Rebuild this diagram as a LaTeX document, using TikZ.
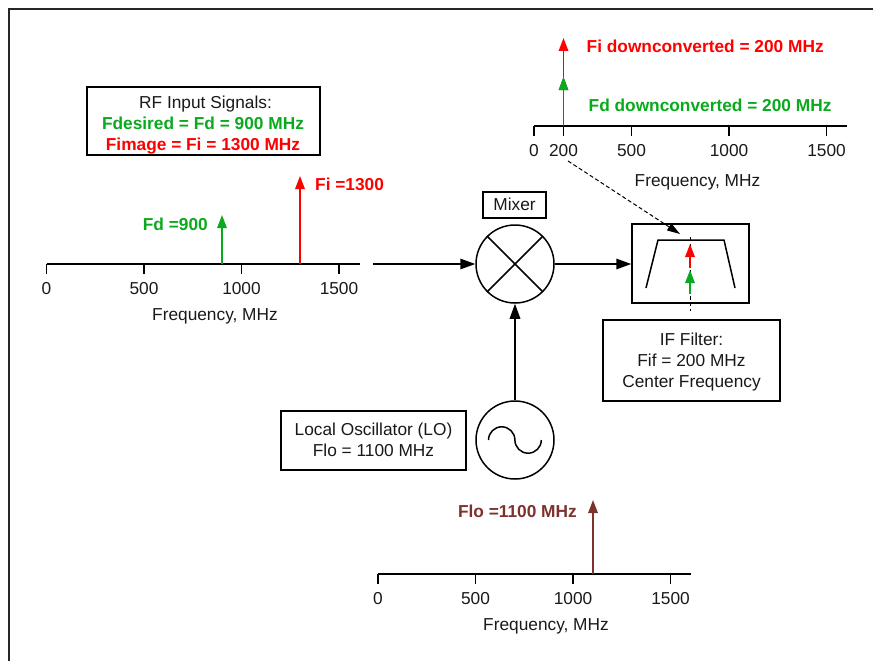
\documentclass[tikz,border=0pt]{standalone}
\usepackage{fontspec}
\setmainfont{Liberation Sans}
\usetikzlibrary{arrows.meta}
\definecolor{gr}{RGB}{10,170,30}
\definecolor{rd}{RGB}{255,0,0}
\definecolor{br}{RGB}{125,50,45}
\tikzset{
  x=1pt,y=-1pt,
  lbl/.style={font=\fontsize{17.3}{20.5}\selectfont,text=black!90,inner sep=0pt,anchor=base},
  blbl/.style={font=\fontsize{17.3}{20.5}\selectfont\bfseries,inner sep=0pt,anchor=base},
  tbox/.style={draw=black,line width=1.5pt,fill=white,inner sep=0pt,minimum width=#1},
  axisline/.style={line width=1.5pt,black},
  wire/.style={line width=1.5pt,-{Triangle[length=15pt,width=10.5pt]}},
  spike/.style={line width=1.5pt,-{Triangle[length=13pt,width=9.5pt]}},
  ring/.style={circle,draw=black,line width=1.5pt,minimum size=78pt,inner sep=0pt,fill=white},
}
\newcommand{\freqaxis}[5]{% x0, y, name, caption dx, caption dy
  \coordinate (#3s) at (#1,#2);
  \coordinate (#3e) at (#1+313,#2);
  \draw[axisline] (#3s) -- (#3e);
  \foreach \v/\p in {0/0,500/97.5,1000/195,1500/292.5}{
    \draw[axisline] (#1+\p,#2) -- ++(0,10);
    \node[lbl] (#3t\v) at (#1+\p,#2+30) {\v};
  }
  \node[lbl] (#3cap) at (#1+#4,#2+#5) {Frequency, MHz};
}
\begin{document}
\begin{tikzpicture}
\useasboundingbox (0,0) rectangle (873,661);
\draw[line width=1.5pt,black!85] (9,661) -- (9,9) -- (873,9);

% axis 1
\freqaxis{46.5}{264}{a}{168.5}{56}
\coordinate (f1b) at (222,264); \coordinate (f1t) at (222,215);
\coordinate (i1b) at (300,264); \coordinate (i1t) at (300,176);
\draw[spike,gr] (f1b) -- (f1t);
\draw[spike,rd] (i1b) -- (i1t);
\node[blbl,text=gr,anchor=base east] (fdl) at (208,230) {Fd =900};
\node[blbl,text=rd,anchor=base west] (fil) at (315,190.5) {Fi =1300};
\node[tbox=233pt,minimum height=68pt] (rf) at (203.5,121) {};
\node[lbl] (rf1) at (205.5,108) {RF Input Signals:};
\node[blbl,text=gr] (rf2) at (203,129) {Fdesired = Fd = 900 MHz};
\node[blbl,text=rd] (rf3) at (203,150) {Fimage = Fi = 1300 MHz};

% axis 2
\freqaxis{534}{126}{b}{163.5}{60}
\draw[axisline] (563.5,126) -- ++(0,10);
\node[lbl] (bt200) at (563.5,156) {200};
\coordinate (s2b) at (563.5,126); \coordinate (s2r) at (563.5,38); \coordinate (s2g) at (563.5,77);
\draw[spike,rd] (s2b) -- (s2r);
\draw[spike,gr,draw=br!60!gr] (s2b) -- (s2g);
\fill[gr] (s2g) -- ++(-4.75,13) -- ++(9.5,0) -- cycle;
\node[blbl,text=rd,anchor=base west] (dcr) at (586.5,52.5) {Fi downconverted = 200 MHz};
\node[blbl,text=gr,anchor=base west] (dcg) at (588.5,111.5) {Fd downconverted = 200 MHz};

% axis 3
\freqaxis{378}{574}{c}{168}{56}
\coordinate (lob) at (593,574); \coordinate (lot) at (593,500);
\draw[spike,br] (lob) -- (lot);
\node[blbl,text=br,anchor=base east] (lol) at (577,517.5) {Flo =1100 MHz};

% mixer
\node[ring] (mix) at (515,264) {};
\draw[line width=1.5pt] (mix.45) -- (mix.225) (mix.135) -- (mix.315);
\node[tbox=63pt,minimum height=26pt] (mixb) at (514.5,205) {};
\node[lbl] (mixl) at (514.5,210.5) {Mixer};

% LO
\node[ring] (lo) at (515,440) {};
\draw[line width=1.5pt] (488.5,440) arc[start angle=180,end angle=0,x radius=13.2,y radius=-13.2] arc[start angle=180,end angle=360,x radius=13.2,y radius=-13.2];
\node[tbox=185pt,minimum height=59pt] (lobox) at (373.5,440.5) {};
\node[lbl] (lot1) at (373.5,435) {Local Oscillator (LO)};
\node[lbl] (lot2) at (373.5,456) {Flo = 1100 MHz};

% filter
\node[tbox=117pt,minimum height=79pt] (filt) at (690.5,263.5) {};
\draw[line width=1.5pt] (646,288) -- (658,240) -- (724,240) -- (735,288);
\coordinate (fc1) at (690,237); \coordinate (fc2) at (690,311);
\draw[line width=1pt,dash pattern=on 4pt off 2.5pt] (fc1) -- (fc2);
\coordinate (r1) at (690,268); \coordinate (r2) at (690,244);
\coordinate (g1) at (690,294); \coordinate (g2) at (690,270);
\draw[spike,rd] (r1) -- (r2);
\draw[spike,gr] (g1) -- (g2);
\node[tbox=177pt,minimum height=81pt] (ifb) at (691.5,360.5) {};
\node[lbl] (if1) at (691.5,345) {IF Filter:};
\node[lbl] (if2) at (691.5,366) {Fif = 200 MHz};
\node[lbl] (if3) at (691.5,387) {Center Frequency};

% connectors
\coordinate (ain) at (373,264);
\draw[wire] (ain) -- (mix.west);
\draw[wire] (mix.east) -- (mix.east -| filt.west);
\draw[wire] (lo.north) -- (mix.south);
\coordinate (ds) at (568,161); \coordinate (de) at (680,234);
\draw[line width=1pt,dash pattern=on 4pt off 2.5pt,-{Triangle[length=13pt,width=8pt]}] (ds) -- (de);
\end{tikzpicture}
\end{document}
